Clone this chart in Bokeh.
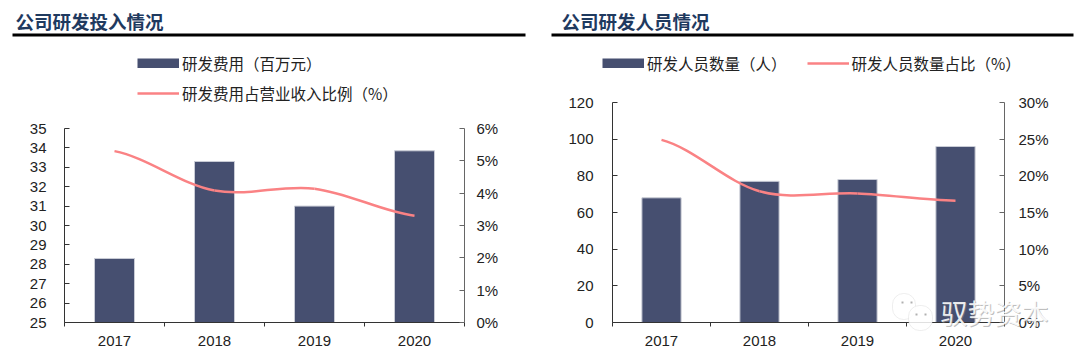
from bokeh.embed import file_html
from bokeh.resources import INLINE
from bokeh.plotting import figure
from bokeh.layouts import row, column
from bokeh.models import (Range1d, LinearAxis, FixedTicker, PrintfTickFormatter,
                          Legend, LegendItem, Label, BoxAnnotation, ColumnDataSource)

years = ["2017", "2018", "2019", "2020"]
rd_cost = [28.3, 33.3, 31.0, 33.85]
rd_cost_ratio = [5.3, 4.08, 4.14, 3.3]
staff = [68, 77, 78, 96]
staff_ratio = [24.9, 17.9, 17.6, 16.6]

title_left = "公司研发投入情况"
title_right = "公司研发人员情况"
legend_cost = "研发费用（百万元）"
legend_cost_ratio = "研发费用占营业收入比例（%）"
legend_staff = "研发人员数量（人）"
legend_staff_ratio = "研发人员数量占比（%）"
watermark = "驭势资本"

BAR = "#464f70"
BAR_EDGE = "#c9ccd6"
LINE = "#fa8284"
NAVY = "#1f3a5f"
TXT = "#222222"
CJK = "Noto Sans CJK SC"
LAT = "Liberation Sans"

centres = [i + 0.5 for i in range(len(years))]
NAN = float("nan")


def smooth(vals):
    """Excel-style smoothed segments through the values, one Bezier per gap."""
    n = len(vals)
    px = centres
    out = dict(x0=[], y0=[], x1=[], y1=[], cx0=[], cy0=[], cx1=[], cy1=[])
    for i in range(n - 1):
        a = vals[max(i - 1, 0)]
        b, c = vals[i], vals[i + 1]
        d = vals[min(i + 2, n - 1)]
        out["x0"].append(px[i]); out["y0"].append(b)
        out["x1"].append(px[i + 1]); out["y1"].append(c)
        out["cx0"].append(px[i] + 1 / 3); out["cy0"].append(b + (c - a) / 6)
        out["cx1"].append(px[i + 1] - 1 / 3); out["cy1"].append(c - (d - b) / 6)
    return ColumnDataSource(out)


def panel(width, bl, br, bt, bars, ratio, y_lo, y_hi, y_step, pct_hi, pct_step, left_standoff, right_standoff):
    p = figure(width=width, height=360, output_backend="svg", toolbar_location=None,
               x_range=Range1d(0, len(years)),
               y_range=Range1d(y_lo, y_hi), x_axis_location=None, y_axis_location=None,
               min_border_left=bl, min_border_right=br, min_border_top=bt, min_border_bottom=38,
               background_fill_color="white", border_fill_color="white", outline_line_color=None)
    p.grid.visible = False
    p.extra_y_ranges = {"pct": Range1d(0, pct_hi)}

    tick_axis = LinearAxis(ticker=FixedTicker(ticks=list(range(len(years) + 1))),
                           major_label_overrides={i: "" for i in range(len(years) + 1)},
                           major_label_text_font_size="1px", major_label_standoff=0,
                           major_tick_in=0, major_tick_out=4, minor_tick_line_color=None,
                           axis_line_color="#333333", major_tick_line_color="#333333")
    p.add_layout(tick_axis, "below")
    cat_axis = LinearAxis(ticker=FixedTicker(ticks=centres),
                          major_label_overrides=dict(zip(centres, years)),
                          axis_line_color=None, major_tick_line_color=None, minor_tick_line_color=None,
                          major_label_text_font=LAT, major_label_text_font_size="15px",
                          major_label_text_color=TXT, major_label_standoff=3)
    p.add_layout(cat_axis, "below")

    ticks = []
    v = y_lo
    while v <= y_hi:
        ticks.append(v)
        v += y_step
    ly = LinearAxis(ticker=FixedTicker(ticks=ticks), major_tick_in=5, major_tick_out=0,
                    minor_tick_line_color=None, axis_line_color="#333333", major_tick_line_color="#333333",
                    major_label_text_font=LAT, major_label_text_font_size="15px", major_label_text_color=TXT,
                    major_label_standoff=left_standoff)
    p.add_layout(ly, "left")
    pticks = []
    v = 0
    while v <= pct_hi:
        pticks.append(v)
        v += pct_step
    ry = LinearAxis(y_range_name="pct", ticker=FixedTicker(ticks=pticks), major_tick_in=5, major_tick_out=0,
                    formatter=PrintfTickFormatter(format="%d%%"),
                    minor_tick_line_color=None, axis_line_color="#666666", major_tick_line_color="#666666",
                    major_label_text_font=LAT, major_label_text_font_size="15px", major_label_text_color=TXT,
                    major_label_standoff=right_standoff)
    p.add_layout(ry, "right")

    p.vbar(x=centres, top=bars, bottom=y_lo, width=0.4, fill_color=BAR, line_color=BAR_EDGE, line_width=1)
    p.bezier(x0="x0", y0="y0", x1="x1", y1="y1", cx0="cx0", cy0="cy0", cx1="cx1", cy1="cy1",
             source=smooth(ratio), y_range_name="pct", line_color=LINE, line_width=2.5)
    return p


p1 = panel(544, 64, 80, 128, rd_cost, rd_cost_ratio, 25, 35, 1, 6, 1, 18, 12)
p2 = panel(536, 68, 76, 102, staff, staff_ratio, 0, 120, 20, 30, 5, 19, 14)

# Transparent sheet over both panels: annotations in a frame are clipped to it,
# and titles, legends and the watermark all lie outside the panels' frames.
top = figure(width=1080, height=360, output_backend="svg", toolbar_location=None,
             x_range=Range1d(0, 1080), y_range=Range1d(360, 0), x_axis_location=None, y_axis_location=None,
             min_border=0, background_fill_alpha=0, border_fill_alpha=0, outline_line_color=None)
top.grid.visible = False


def box(l, r, t, b, **kw):
    top.add_layout(BoxAnnotation(left=l, right=r, top=t, bottom=b, left_units="canvas", right_units="canvas",
                                 top_units="canvas", bottom_units="canvas", **kw))


def heading(text, x, left, right):
    top.add_layout(Label(x=x, y=20, x_units="canvas", y_units="canvas", text=text, text_font=CJK,
                         text_font_size="18.5px", text_font_style="bold", text_color=NAVY,
                         text_baseline="middle", text_align="left"))
    box(left, right, 33, 36, fill_color="black", fill_alpha=1, line_color=None)


heading(title_left, 15, 12, 525)
heading(title_right, 561, 551, 1073)

# legend keys only: one undrawable row each, so the swatches get their styles
key_bar = top.line(x=[NAN], y=[NAN], line_color=BAR, line_width=10)
key_line = top.line(x=[NAN], y=[NAN], line_color=LINE, line_width=2.5)

legend_style = dict(glyph_width=42, glyph_height=10, label_standoff=3, padding=0, margin=0,
                    background_fill_alpha=0, border_line_color=None, label_text_font=CJK,
                    label_text_font_size="15.5px", label_text_color=TXT, label_height=22)
top.add_layout(Legend(items=[LegendItem(label=legend_cost, renderers=[key_bar]),
                             LegendItem(label=legend_cost_ratio, renderers=[key_line])],
                      location=(137, 256), orientation="vertical", spacing=8, **legend_style), "center")
top.add_layout(Legend(items=[LegendItem(label=legend_staff, renderers=[key_bar]),
                             LegendItem(label=legend_staff_ratio, renderers=[key_line])],
                      location=(602, 286), orientation="horizontal", spacing=20, **legend_style), "center")

# watermark
for (l, r, t, b) in [(892, 915, 293, 319), (908, 932, 305, 330)]:
    box(l, r, t, b, fill_color="white", fill_alpha=0.85, line_color="#c8c8c8", line_width=1, border_radius=11)
for (l, t) in [(901, 301), (910, 301), (915, 313), (924, 313)]:
    box(l, l + 2, t, t + 2, fill_color="#b0b0b0", fill_alpha=1, line_color=None)
top.add_layout(Label(x=940, y=312, x_units="canvas", y_units="canvas", text=watermark, text_font=CJK,
                     text_font_size="27px", text_color="#888888", text_alpha=0.55, text_baseline="middle",
                     x_offset=1, y_offset=-1))
top.add_layout(Label(x=940, y=312, x_units="canvas", y_units="canvas", text=watermark, text_font=CJK,
                     text_font_size="27px", text_color="white", text_alpha=0.9, text_baseline="middle"))

sheet = column(top, styles={"position": "absolute", "left": "0px", "top": "0px", "pointer-events": "none"})
layout = row(column(p1), column(p2), sheet, spacing=0)
open("out.html", "w").write(file_html(layout, INLINE))
